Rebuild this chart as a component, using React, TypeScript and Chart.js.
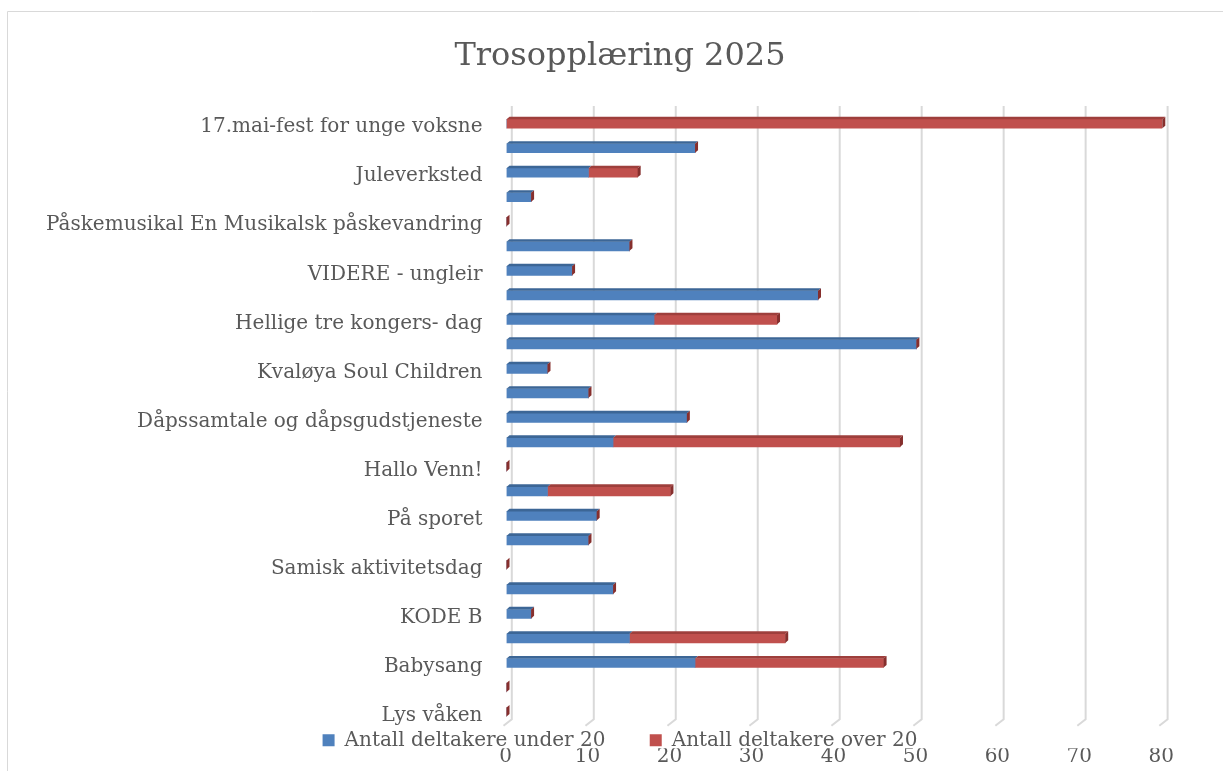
import React, { useEffect, useRef } from "react";
import { Chart, registerables } from "chart.js";

Chart.register(...registerables);

const chartTitle = "Trosopplæring 2025";
const categories = [
  "17.mai-fest for unge voksne",
  "",
  "Juleverksted",
  "",
  "Påskemusikal En Musikalsk påskevandring",
  "",
  "VIDERE - ungleir",
  "",
  "Hellige tre kongers- dag",
  "",
  "Kvaløya Soul Children",
  "",
  "Dåpssamtale og dåpsgudstjeneste",
  "",
  "Hallo Venn!",
  "",
  "På sporet",
  "",
  "Samisk aktivitetsdag",
  "",
  "KODE B",
  "",
  "Babysang",
  "",
  "Lys våken",
];
const seriesNames = ["Antall deltakere under 20", "Antall deltakere over 20"];
const under20 = [0, 23, 10, 3, 0, 15, 8, 38, 18, 50, 5, 10, 22, 13, 0, 5, 11, 10, 0, 13, 3, 15, 23, 0, 0];
const over20 = [80, 0, 6, 0, 0, 0, 0, 0, 15, 0, 0, 0, 0, 35, 0, 15, 0, 0, 0, 0, 0, 19, 23, 0, 0];
const xTicks = [0, 10, 20, 30, 40, 50, 60, 70, 80];

const FONT = "'DejaVu Serif', serif";
const TEXT = "#595959";
const FRONT = ["#4f81bd", "#c0504d"];
const TOPS = ["#3c6696", "#9e3f3c"];
const SIDE = "#862f2d";

export default function App() {
  const ref = useRef<HTMLCanvasElement>(null);

  useEffect(() => {
    if (!ref.current) return;
    const dx = 3;
    const dy = 2.6;

    const frame = {
      id: "frame",
      beforeDraw(chart: any) {
        const ctx = chart.ctx;
        ctx.save();
        ctx.strokeStyle = "#d9d9d9";
        ctx.lineWidth = 1;
        ctx.beginPath();
        ctx.moveTo(7.5, 771);
        ctx.lineTo(7.5, 11.5);
        ctx.lineTo(1223, 11.5);
        ctx.stroke();
        ctx.restore();
      },
    };

    const grid3d = {
      id: "grid3d",
      beforeDatasetsDraw(chart: any) {
        const { ctx, chartArea } = chart;
        const x = chart.scales.x;
        ctx.save();
        ctx.strokeStyle = "#d9d9d9";
        ctx.lineWidth = 2;
        for (const v of xTicks) {
          const px = x.getPixelForValue(v);
          ctx.beginPath();
          ctx.moveTo(px + 5.3, chartArea.top - 5.5);
          ctx.lineTo(px + 5.3, chartArea.bottom - 5);
          ctx.lineTo(px - 3, chartArea.bottom + 1.5);
          ctx.stroke();
        }
        ctx.restore();
      },
    };

    const poly = (ctx: any, pts: number[][], color: string) => {
      ctx.fillStyle = color;
      ctx.beginPath();
      ctx.moveTo(pts[0][0], pts[0][1]);
      for (let k = 1; k < pts.length; k++) ctx.lineTo(pts[k][0], pts[k][1]);
      ctx.closePath();
      ctx.fill();
    };

    const bar3d = {
      id: "bar3d",
      afterDatasetsDraw(chart: any) {
        const ctx = chart.ctx;
        const metas = [chart.getDatasetMeta(0), chart.getDatasetMeta(1)];
        ctx.save();
        for (let j = 0; j < categories.length; j++) {
          for (let i = 0; i < 2; i++) {
            const el = metas[i].data[j];
            if (!el) continue;
            const x0 = Math.min(el.x, el.base);
            const x1 = Math.max(el.x, el.base);
            const top = el.y - el.height / 2;
            if (x1 - x0 > 0.5) {
              poly(ctx, [[x0, top], [x0 + dx, top - dy], [x1 + dx, top - dy], [x1, top]], TOPS[i]);
            }
          }
          const last = metas[1].data[j];
          const top = last.y - last.height / 2;
          const bottom = last.y + last.height / 2;
          const xe = last.x;
          poly(ctx, [[xe, top], [xe + dx, top - dy], [xe + dx, bottom - dy], [xe, bottom]], SIDE);
        }
        ctx.restore();
      },
    };

    const chart = new Chart(ref.current, {
      type: "bar",
      data: {
        labels: categories,
        datasets: [
          { label: seriesNames[0], data: under20, backgroundColor: FRONT[0], borderWidth: 0, barThickness: 9 },
          { label: seriesNames[1], data: over20, backgroundColor: FRONT[1], borderWidth: 0, barThickness: 9 },
        ],
      },
      options: {
        indexAxis: "y",
        responsive: false,
        animation: false,
        events: [],
        layout: { padding: { left: 20, right: 3, top: 0, bottom: 0 } },
        plugins: {
          tooltip: { enabled: false },
          title: {
            display: true,
            text: chartTitle,
            color: TEXT,
            font: { family: FONT, size: 32, weight: "normal" },
            padding: { top: 37, bottom: 36.1 },
          },
          legend: {
            display: true,
            position: "bottom",
            maxHeight: 24,
            labels: {
              boxWidth: 12,
              boxHeight: 12,
              padding: 6.1,
              color: TEXT,
              font: { family: FONT, size: 20 },
              generateLabels: (c: any) =>
                Chart.defaults.plugins.legend.labels
                  .generateLabels(c)
                  .map((l: any, i: number) => ({ ...l, text: i === 0 ? l.text + "      " : l.text })),
            },
          },
        },
        scales: {
          x: {
            type: "linear",
            stacked: true,
            min: 0,
            max: 80,
            weight: 2000,
            grid: { display: false, drawTicks: false },
            border: { display: false },
            ticks: {
              stepSize: 10,
              color: TEXT,
              font: { family: FONT, size: 20 },
              padding: -3.55,
              labelOffset: -1,
            },
            afterFit: (s: any) => {
              s.height = 22.75;
            },
          },
          y: {
            type: "category",
            stacked: true,
            grid: { display: false, drawTicks: false },
            border: { display: false },
            ticks: {
              autoSkip: false,
              color: TEXT,
              font: { family: FONT, size: 20 },
              padding: 24,
              labelOffset: 3.5,
            },
            afterFit: (s: any) => {
              s.width = 486.5;
            },
          },
          y2: {
            type: "category",
            position: "right",
            display: true,
            grid: { display: false, drawTicks: false },
            border: { display: false },
            ticks: { display: false },
            afterFit: (s: any) => {
              s.width = 57.7;
            },
          },
        },
      },
      plugins: [frame, grid3d, bar3d],
    } as any);

    return () => chart.destroy();
  }, []);

  return (
    <div style={{ position: "fixed", left: 0, top: 0, width: 1223, height: 771, background: "#fff" }}>
      <canvas ref={ref} width={1223} height={771} style={{ display: "block" }} />
    </div>
  );
}
